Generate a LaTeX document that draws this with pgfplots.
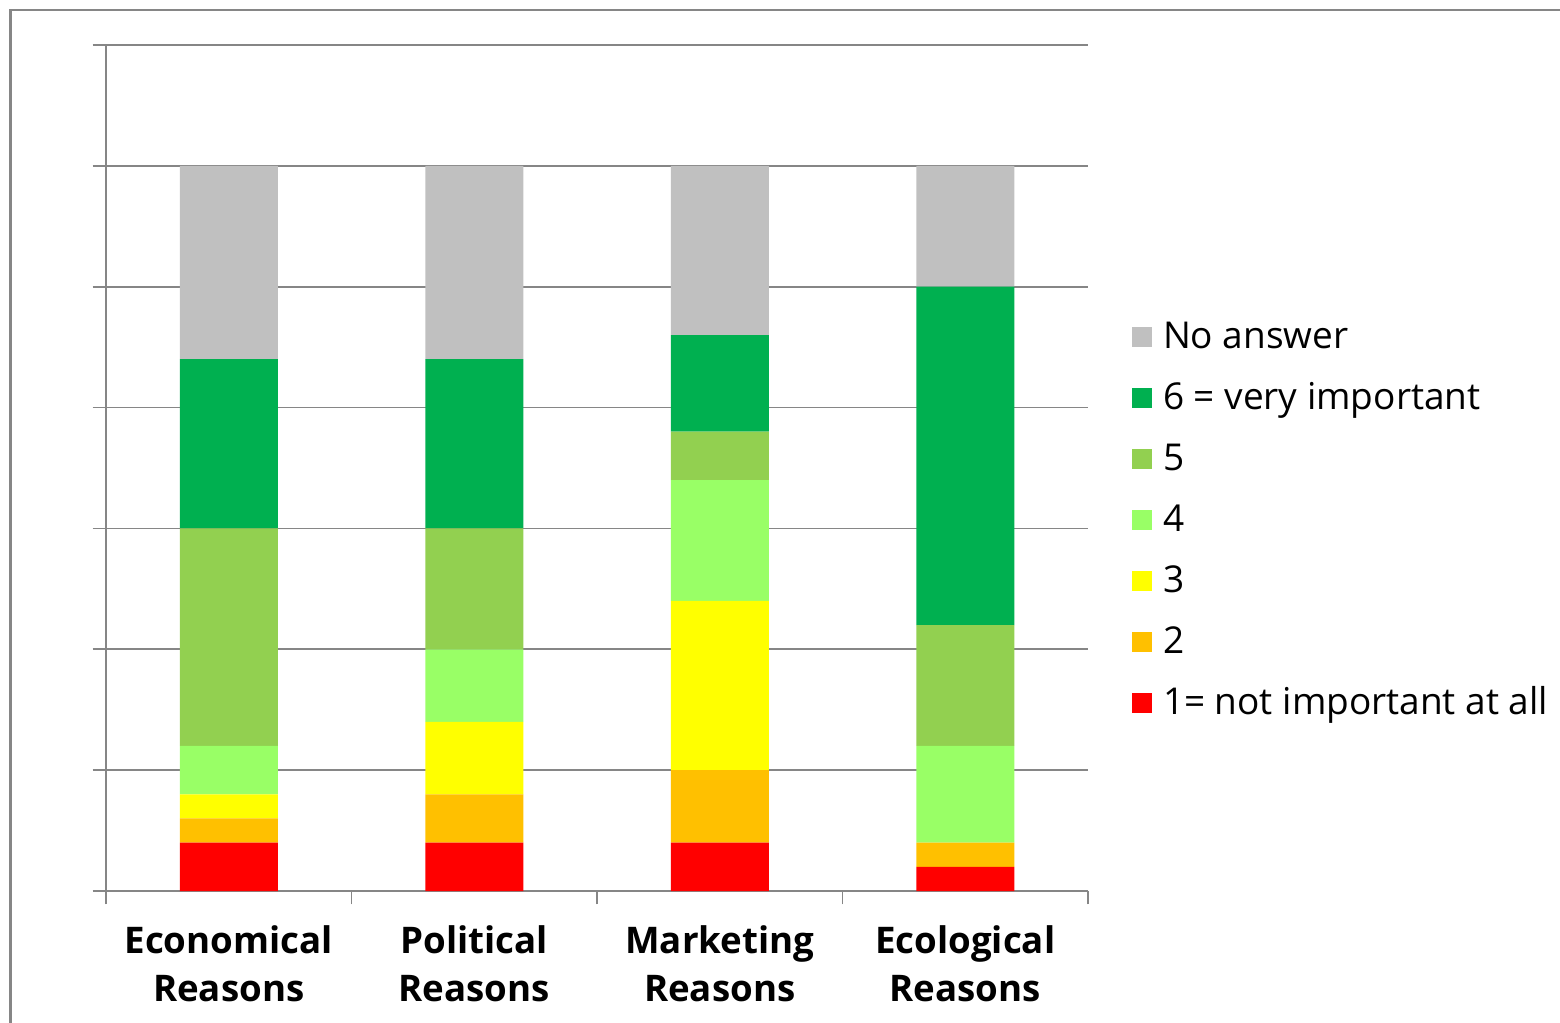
\documentclass[border=0pt]{standalone}
\usepackage{pgfplots}
\pgfplotsset{compat=1.18}
\usepackage{fontspec}
\setmainfont{Open Sans}
\definecolor{cgray}{HTML}{C0C0C0}
\definecolor{cgreen}{HTML}{00B050}
\definecolor{cfive}{HTML}{92D050}
\definecolor{cfour}{HTML}{99FF66}
\definecolor{cthree}{HTML}{FFFF00}
\definecolor{ctwo}{HTML}{FFC000}
\definecolor{cone}{HTML}{FF0000}
\definecolor{gridc}{HTML}{868686}
\begin{document}
\begin{tikzpicture}
\useasboundingbox (0,0) rectangle (468pt,-306.9pt);
\draw[color=gridc, line width=0.7pt] (3.1pt,-310pt) -- (3.1pt,-3.1pt) -- (470pt,-3.1pt);
\begin{axis}[
  at={(31.8pt,-267.3pt)}, anchor=south west,
  scale only axis, width=294.6pt, height=253.8pt,
  ybar stacked, bar width=29.4pt,
  xmin=-0.5, xmax=3.5, ymin=0, ymax=35,
  axis x line*=bottom, axis y line*=left,
  axis line style={gridc, line width=0.5pt},
  xtick={-0.5,0.5,1.5,2.5,3.5}, xticklabels={},
  ytick={0,5,...,35}, yticklabels={},
  ymajorgrids, grid style={gridc, line width=0.5pt},
  tick style={gridc, line width=0.5pt},
  major tick length=4pt, tick align=outside,
  extra x ticks={0,1,2,3},
  extra x tick labels={Economical\\Reasons,Political\\Reasons,Marketing\\Reasons,Ecological\\Reasons},
  extra x tick style={major tick length=0pt, grid=none,
     ticklabel style={font=\fontsize{11}{14.4}\selectfont\bfseries, align=center, yshift=-7pt}},
  reverse legend,
  legend cell align=left,
  legend style={draw=none, fill=none, at={(1.0438,0.436)}, anchor=west,
     font=\fontsize{11.1}{13}\selectfont, inner sep=0pt,
     row sep=7.8pt, nodes={inner ysep=0pt, inner xsep=3.4pt, text height=8pt, text depth=2.5pt}},
  legend image code/.code={\fill[#1] (0pt,-2.4pt) rectangle (6pt,3.6pt);},
  every axis plot/.append style={draw=none},
]
\addplot[fill=cone] coordinates {(0,2) (1,2) (2,2) (3,1)};
\addplot[fill=ctwo] coordinates {(0,1) (1,2) (2,3) (3,1)};
\addplot[fill=cthree] coordinates {(0,1) (1,3) (2,7) (3,0)};
\addplot[fill=cfour] coordinates {(0,2) (1,3) (2,5) (3,4)};
\addplot[fill=cfive] coordinates {(0,9) (1,5) (2,2) (3,5)};
\addplot[fill=cgreen] coordinates {(0,7) (1,7) (2,4) (3,14)};
\addplot[fill=cgray] coordinates {(0,8) (1,8) (2,7) (3,5)};
\legend{1= not important at all,2,3,4,5,6 = very important,No answer}
\end{axis}
\end{tikzpicture}
\end{document}
